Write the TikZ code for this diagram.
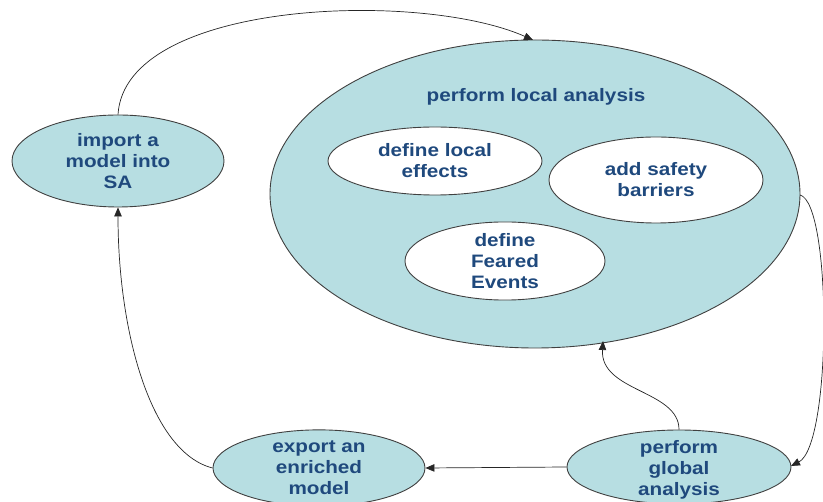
\documentclass[tikz,border=0pt]{standalone}
\usepackage{fontspec}
\setmainfont{Liberation Sans}[FakeStretch=1.15]
\usetikzlibrary{arrows.meta,shapes.geometric}
\definecolor{tealfill}{HTML}{B7DEE2}
\definecolor{txtblue}{HTML}{1F497D}
\definecolor{linegray}{HTML}{404040}
\begin{document}
\begin{tikzpicture}[x=1pt,y=-1pt,
  oval/.style={ellipse,draw=linegray,line width=0.9pt,inner sep=0pt,align=center,
    text=txtblue,font=\fontsize{18}{21}\selectfont\bfseries},
  task/.style={oval,fill=tealfill},
  sub/.style={oval,fill=white},
  conn/.style={draw=black!85,line width=0.7pt,-{Triangle[length=9pt,width=7.5pt]}}]
\useasboundingbox (0,0) rectangle (823,502);
\node[task,minimum width=530,minimum height=308] (big) at (535,194) {};
\node[text=txtblue,font=\fontsize{18}{21}\selectfont\bfseries] (title) at (536,97) {perform local analysis};
\node[sub,minimum width=214,minimum height=68] (dle) at (435,161) {define local\\effects};
\node[sub,minimum width=214,minimum height=86] (asb) at (656,180) {add safety\\barriers};
\node[sub,minimum width=200,minimum height=74] (dfe) at (505,261) {define\\Feared\\Events};
\node[task,minimum width=212,minimum height=92] (imp) at (118,161) {import a\\model into\\SA};
\node[task,minimum width=212,minimum height=76] (exp) at (319,468) {export an\\enriched\\model};
\node[task,minimum width=224,minimum height=74] (glob) at (679,467) {};
\node[text=txtblue,font=\fontsize{18}{21}\selectfont\bfseries,align=center] (globtxt) at (679,470) {perform\\global\\analysis};
\coordinate (bigtop) at (533,40);
\coordinate (bigright) at (800,195);
\coordinate (bigbot) at (603,341);
\coordinate (globright) at (791,466);
\draw[conn] (imp.north) .. controls (125,0) and (420,-10) .. (bigtop);
\draw[conn] (bigright) .. controls (832,203) and (832,445) .. (globright);
\draw[conn] (glob.north) .. controls (679,390) and (600,392) .. (bigbot);
\draw[conn] (glob.west) -- (exp.east);
\draw[conn] (exp.west) .. controls (150,452) and (118,330) .. (imp.south);
\end{tikzpicture}
\end{document}
